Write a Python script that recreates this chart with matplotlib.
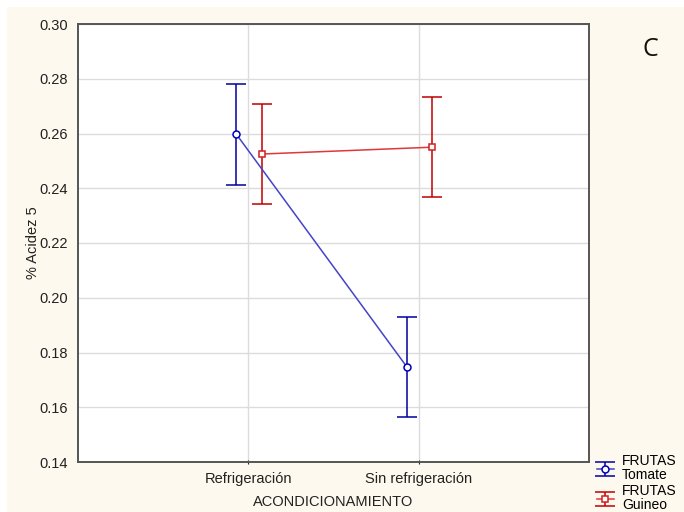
import matplotlib
matplotlib.use("Agg")
import matplotlib.pyplot as plt
from matplotlib.patches import Rectangle
import numpy as np

categories = ["Refrigeración", "Sin refrigeración"]
series_names = ["FRUTAS\nTomate", "FRUTAS\nGuineo"]
tomate_mean = [0.2597, 0.1748]
tomate_err = [0.0184, 0.0183]
guineo_mean = [0.2525, 0.2550]
guineo_err = [0.0183, 0.0182]
yticks = [0.14, 0.16, 0.18, 0.20, 0.22, 0.24, 0.26, 0.28, 0.30]

plt.rcParams['font.family'] = ['Liberation Sans', 'DejaVu Sans']

fig = plt.figure(figsize=(6.84, 5.12), dpi=100)
fig.patch.set_facecolor('white')
fig.patches.append(Rectangle((7/684, 0), 1, 1 - 7/512, transform=fig.transFigure,
                             facecolor='#fdf9ee', edgecolor='none', zorder=-10))

ax = fig.add_axes([78/684, 1 - 462/512, (589 - 78)/684, (462 - 24)/512])
ax.set_facecolor('white')

x = np.arange(len(categories))
off_t, off_g = -0.07, 0.08

et = ax.errorbar(x + off_t, tomate_mean, yerr=tomate_err, color='#0000a0', ecolor='#0000a0',
                 elinewidth=1.1, capsize=7, capthick=1.1, marker='o', markersize=5,
                 markerfacecolor='white', markeredgecolor='#0000c0', markeredgewidth=1.1,
                 linewidth=1.1, label=series_names[0], zorder=3)
et.lines[0].set_color('#4444c8')
et.lines[0].set_markeredgecolor('#0000c0')
eg = ax.errorbar(x + off_g, guineo_mean, yerr=guineo_err, color='#c00000', ecolor='#c00000',
                 elinewidth=1.1, capsize=7, capthick=1.1, marker='s', markersize=5,
                 markerfacecolor='white', markeredgecolor='#d02020', markeredgewidth=1.1,
                 linewidth=1.1, label=series_names[1], zorder=3)
eg.lines[0].set_color('#e03838')
eg.lines[0].set_markeredgecolor('#d02020')

ax.set_xlim(-1, 2)
ax.set_ylim(0.14, 0.30)
ax.set_xticks(x)
ax.set_xticklabels(categories, fontsize=10.5)
ax.set_yticks(yticks)
ax.set_yticklabels([f"{v:.2f}" for v in yticks], fontsize=10.5)
ax.grid(True, color='#dcdcdc', linewidth=1)
ax.set_axisbelow(True)
ax.tick_params(axis='y', length=0, pad=7, colors='#222222')
ax.tick_params(axis='x', length=3, direction='inout', pad=6, colors='#222222')
for s in ax.spines.values():
    s.set_color('#555555')
    s.set_linewidth(1.4)

ax.set_xlabel("ACONDICIONAMIENTO", fontsize=10.5, labelpad=6, color='#222222')
ax.set_ylabel("% Acidez 5", fontsize=10.5, labelpad=0, color='#222222')

fig.text(650/684, 1 - 50/512, "C", fontsize=18, family=['Open Sans', 'DejaVu Sans'],
         ha='center', va='center', color='#111111')

leg = fig.legend(handles=[et, eg], labels=series_names, loc='upper left',
                 bbox_to_anchor=(590/684, 1 - 447/512), frameon=False, fontsize=10,
                 handlelength=1.2, handletextpad=0.6, labelspacing=0.15, borderpad=0)
for t in leg.get_texts():
    t.set_linespacing(1.0)

fig.savefig("out.png", dpi=100)
